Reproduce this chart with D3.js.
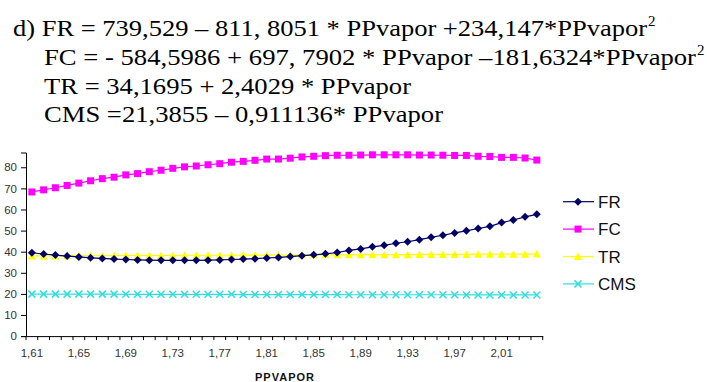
<!DOCTYPE html>
<html>
<head>
<meta charset="utf-8">
<script src="https://cdn.jsdelivr.net/npm/d3@7"></script>
<style>
  body { margin: 0; background: #fff; }
  .eq { font-family: "Liberation Serif", "Times New Roman", serif; font-size: 24px; fill: #000; }
  .tick text { font-family: "Liberation Sans", Arial, sans-serif; font-size: 11.5px; fill: #333; }
  .legend text { font-family: "Liberation Sans", Arial, sans-serif; font-size: 17px; fill: #111; }
  .axislabel { font-family: "Liberation Sans", Arial, sans-serif; font-size: 11px; font-weight: bold; fill: #111; letter-spacing: 1px; }
</style>
</head>
<body>
<div id="chart"></div>
<script>
// categories (PPvapor)
var categories = ["1,61","1,62","1,63","1,64","1,65","1,66","1,67","1,68","1,69","1,70",
  "1,71","1,72","1,73","1,74","1,75","1,76","1,77","1,78","1,79","1,80",
  "1,81","1,82","1,83","1,84","1,85","1,86","1,87","1,88","1,89","1,90",
  "1,91","1,92","1,93","1,94","1,95","1,96","1,97","1,98","1,99","2,00",
  "2,01","2,02","2,03","2,04"];

var frValues = [39.5,38.9,38.4,37.9,37.5,37.1,36.8,36.5,36.3,36.1,
  36.0,35.9,35.9,35.9,35.9,36.0,36.1,36.3,36.5,36.7,
  37.0,37.3,37.7,38.1,38.5,39.0,39.6,40.6,41.3,42.3,
  43.0,44.0,44.7,45.7,46.8,47.8,48.9,49.9,51.0,52.0,
  53.8,55.0,56.5,57.7];

var fcValues = [68.3,69.3,70.3,71.4,72.5,73.6,74.6,75.3,76.4,77.0,
  77.9,78.6,79.5,80.2,80.6,81.2,81.7,82.4,82.8,83.3,
  83.9,83.9,84.3,84.9,85.2,85.5,85.7,85.7,85.8,85.9,
  85.9,85.9,85.9,85.8,85.8,85.7,85.6,85.6,85.2,85.1,
  84.7,84.7,84.4,83.4];

var trValues = [38.0,38.0,38.0,38.1,38.1,38.1,38.1,38.1,38.2,38.2,
  38.2,38.2,38.2,38.3,38.3,38.3,38.3,38.3,38.4,38.4,
  38.4,38.4,38.4,38.5,38.5,38.5,38.5,38.5,38.6,38.6,
  38.6,38.6,38.6,38.7,38.7,38.7,38.7,38.7,38.8,38.8,
  38.8,38.8,38.8,38.9];

var cmsValues = [19.9,19.9,19.9,19.9,19.9,19.9,19.9,19.9,19.8,19.8,
  19.8,19.8,19.8,19.8,19.8,19.8,19.8,19.8,19.7,19.7,
  19.7,19.7,19.7,19.7,19.7,19.7,19.7,19.6,19.6,19.6,
  19.6,19.6,19.6,19.6,19.6,19.6,19.6,19.5,19.5,19.5,
  19.5,19.5,19.5,19.5];

var yTicks = [0,10,20,30,40,50,60,70,80];
var xLabels = ["1,61","1,65","1,69","1,73","1,77","1,81","1,85","1,89","1,93","1,97","2,01"];

var seriesNames = ["FR","FC","TR","CMS"];
var seriesColors = ["#000066","#ff00ff","#ffff00","#33dddd"];
var seriesShapes = ["diamond","square","triangle","x"];

var series = [frValues, fcValues, trValues, cmsValues].map(function(v, k) {
  return {name: seriesNames[k], color: seriesColors[k], shape: seriesShapes[k], values: v};
});

var width = 707, height = 382;

var svg = d3.select("#chart")
  .append("svg")
  .attr("width", width)
  .attr("height", height);

// equations above the chart
var eqLines = [
  {x: 13, y: 36, len: 634, parts: ["d) FR = 739,529 \u2013 811, 8051 * PPvapor +234,147*PPvapor", "2"]},
  {x: 44, y: 65, len: 652, parts: ["FC = - 584,5986 + 697, 7902 * PPvapor \u2013181,6324*PPvapor", "2"]},
  {x: 44, y: 93.5, len: 367, parts: ["TR = 34,1695 + 2,4029 * PPvapor"]},
  {x: 44, y: 122, len: 399, parts: ["CMS =21,3855 \u2013 0,911136* PPvapor"]}
];
eqLines.forEach(function(l) {
  svg.append("text").attr("class", "eq")
    .attr("x", l.x).attr("y", l.y)
    .attr("textLength", l.len)
    .attr("lengthAdjust", "spacingAndGlyphs")
    .text(l.parts[0]);
  if (l.parts[1]) {
    svg.append("text").attr("class", "eq")
      .attr("x", l.x + l.len + 1).attr("y", l.y - 10)
      .style("font-size", "15px")
      .text(l.parts[1]);
  }
});

// scales
var x = d3.scaleBand()
  .domain(categories)
  .range([26, 542.7])
  .padding(0);

var y = d3.scaleLinear()
  .domain([0, 87])
  .range([336.1, 152.5]);

// Y axis
svg.append("g")
  .attr("transform", "translate(26,0)")
  .call(d3.axisLeft(y).tickValues(yTicks).tickSize(5).tickPadding(4))
  .call(function(g) { g.selectAll("path, line").attr("stroke", "#000"); });

// X axis
var xAxis = svg.append("g")
  .attr("transform", "translate(0," + y(0) + ")")
  .call(d3.axisBottom(x).tickValues(xLabels).tickSize(0).tickPadding(13).tickSizeOuter(0));
xAxis.select(".domain").attr("stroke", "#000");

// tick marks between categories
var bounds = categories.map(function(c) { return x(c); }).concat([x(categories[categories.length - 1]) + x.bandwidth()]);
xAxis.selectAll(".boundTick")
  .data(bounds)
  .enter()
  .append("line")
  .attr("x1", function(d) { return d; })
  .attr("x2", function(d) { return d; })
  .attr("y1", 0)
  .attr("y2", 4)
  .attr("stroke", "#000");

// x axis title
svg.append("text")
  .attr("x", 285)
  .attr("y", 381)
  .style("text-anchor", "middle")
  .attr("class", "axislabel")
  .text("PPVAPOR");

function drawMarker(g, shape, color) {
  if (shape === "diamond") {
    g.append("path").attr("d", "M0,-4L4,0L0,4L-4,0Z").attr("fill", color);
  } else if (shape === "square") {
    g.append("rect").attr("x", -3.5).attr("y", -3.5).attr("width", 7).attr("height", 7).attr("fill", color);
  } else if (shape === "triangle") {
    g.append("path").attr("d", "M0,-4L4,3.5L-4,3.5Z").attr("fill", color);
  } else {
    g.append("path").attr("d", "M-3.5,-3.5L3.5,3.5M-3.5,3.5L3.5,-3.5")
      .attr("stroke", color).attr("stroke-width", 1.5).attr("fill", "none");
  }
}

var line = d3.line()
  .x(function(d, i) { return x(categories[i]) + x.bandwidth() / 2; })
  .y(function(d) { return y(d); });

// draw series (bottom to top)
series.slice().reverse().forEach(function(s) {
  var g = svg.append("g");
  g.append("path")
    .datum(s.values)
    .attr("d", line)
    .attr("fill", "none")
    .attr("stroke", s.color)
    .attr("stroke-width", 1.2);
  g.selectAll(".pt")
    .data(s.values)
    .enter()
    .append("g")
    .attr("transform", function(d, i) {
      return "translate(" + (x(categories[i]) + x.bandwidth() / 2) + "," + y(d) + ")";
    })
    .each(function() { drawMarker(d3.select(this), s.shape, s.color); });
});

// legend
var legend = svg.append("g").attr("class", "legend");
series.forEach(function(s, k) {
  var row = legend.append("g").attr("transform", "translate(563," + (201.7 + k * 27.4) + ")");
  row.append("line").attr("x1", 0).attr("x2", 31).attr("y1", 0).attr("y2", 0)
    .attr("stroke", s.color).attr("stroke-width", 1.2);
  drawMarker(row.append("g").attr("transform", "translate(15,0)"), s.shape, s.color);
  row.append("text").attr("x", 35).attr("dy", "0.36em").text(s.name);
});
</script>
</body>
</html>
